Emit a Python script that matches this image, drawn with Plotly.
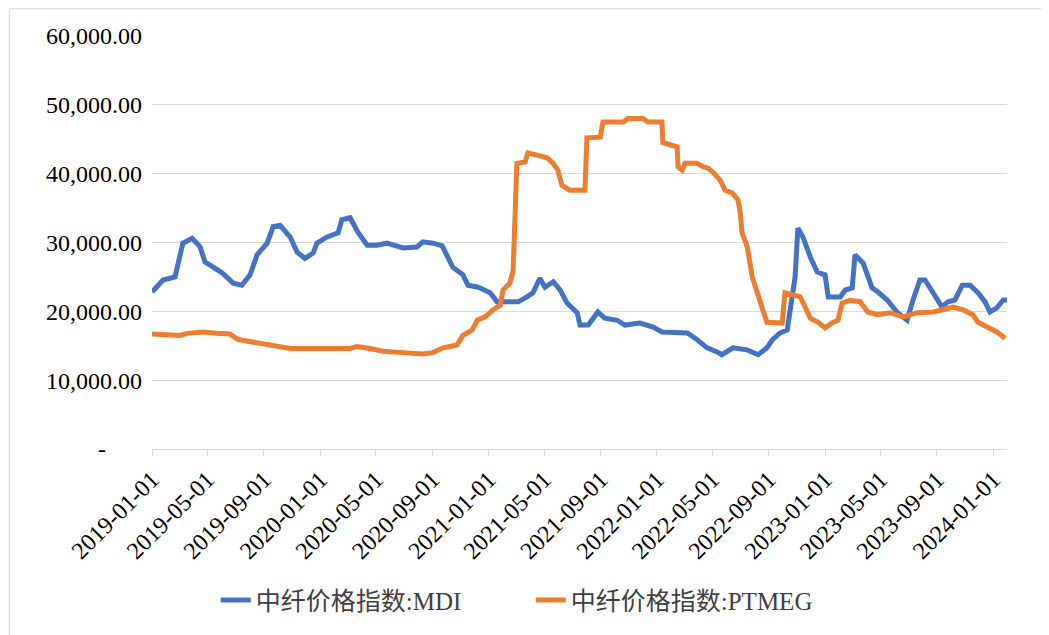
import plotly.graph_objects as go

# 中纤价格指数:MDI
mdi_dates = [
    "2019-01-01", "2019-01-25", "2019-02-20", "2019-03-09", "2019-03-29", "2019-04-15",
    "2019-04-26", "2019-05-13", "2019-06-02", "2019-06-26", "2019-07-15", "2019-08-02",
    "2019-08-17", "2019-09-08", "2019-09-21", "2019-10-06", "2019-10-28", "2019-11-12",
    "2019-11-29", "2019-12-17", "2019-12-25", "2020-01-16", "2020-02-09", "2020-02-17",
    "2020-03-06", "2020-03-23", "2020-04-12", "2020-05-03", "2020-05-25", "2020-06-29",
    "2020-07-29", "2020-08-11", "2020-09-02", "2020-09-22", "2020-10-05", "2020-10-15",
    "2020-11-06", "2020-11-17", "2020-12-09", "2021-01-04", "2021-01-19", "2021-03-06",
    "2021-03-25", "2021-04-07", "2021-04-22", "2021-05-03", "2021-05-21", "2021-06-05",
    "2021-06-20", "2021-07-12", "2021-07-18", "2021-08-05", "2021-08-26", "2021-09-10",
    "2021-10-07", "2021-10-24", "2021-11-25", "2021-12-24", "2022-01-12", "2022-03-08",
    "2022-03-31", "2022-04-20", "2022-05-12", "2022-05-22", "2022-06-15", "2022-07-16",
    "2022-08-09", "2022-08-28", "2022-09-08", "2022-09-25", "2022-10-11", "2022-10-21",
    "2022-10-28", "2022-11-03", "2022-11-14", "2022-11-30", "2022-12-15", "2023-01-01",
    "2023-01-08", "2023-02-03", "2023-02-14", "2023-03-01", "2023-03-07", "2023-03-25",
    "2023-04-13", "2023-04-26", "2023-05-16", "2023-06-06", "2023-06-28", "2023-07-11",
    "2023-07-26", "2023-08-06", "2023-08-24", "2023-09-12", "2023-09-25", "2023-10-10",
    "2023-10-26", "2023-11-12", "2023-11-29", "2023-12-14", "2023-12-25", "2024-01-09",
    "2024-01-23", "2024-01-31",
]
mdi_values = [
    22800, 24550, 25000, 29900, 30600, 29400,
    27200, 26400, 25600, 24100, 23800, 25300,
    28200, 29900, 32300, 32500, 30800, 28600,
    27700, 28500, 29900, 30800, 31400, 33300,
    33600, 31500, 29600, 29600, 29900, 29200,
    29350, 30100, 29900, 29500, 27500, 26400,
    25300, 23800, 23500, 22700, 21400, 21400,
    22100, 22700, 24800, 23500, 24300, 23100,
    21200, 19800, 18000, 18000, 19900, 19000,
    18700, 18000, 18300, 17700, 17000, 16850,
    15800, 14700, 14100, 13700, 14700, 14400,
    13700, 14700, 15800, 16850, 17300, 21600,
    25000, 32100, 30800, 27900, 25700, 25300,
    22100, 22100, 23100, 23400, 28200, 27000,
    23400, 22800, 21650, 19900, 18700, 21650,
    24550, 24550, 22700, 20600, 21400, 21650,
    23800, 23800, 22700, 21400, 19900, 20500,
    21650, 21650,
]

# 中纤价格指数:PTMEG
ptmeg_dates = [
    "2019-01-01", "2019-02-02", "2019-03-03", "2019-03-18", "2019-04-22", "2019-05-22",
    "2019-06-19", "2019-07-07", "2019-08-02", "2019-08-30", "2019-10-06", "2019-10-28",
    "2020-03-06", "2020-03-21", "2020-04-18", "2020-05-17", "2020-06-29", "2020-08-11",
    "2020-09-02", "2020-09-24", "2020-10-09", "2020-10-24", "2020-11-06", "2020-11-26",
    "2020-12-07", "2020-12-24", "2021-01-10", "2021-01-26", "2021-02-01", "2021-02-16",
    "2021-02-23", "2021-03-03", "2021-03-21", "2021-03-27", "2021-04-16", "2021-05-08",
    "2021-05-21", "2021-05-31", "2021-06-09", "2021-06-26", "2021-07-29", "2021-08-02",
    "2021-08-31", "2021-09-06", "2021-10-20", "2021-10-30", "2021-12-02", "2021-12-13",
    "2022-01-12", "2022-01-14", "2022-01-30", "2022-02-14", "2022-02-16", "2022-02-25",
    "2022-03-03", "2022-03-29", "2022-04-11", "2022-04-22", "2022-05-03", "2022-05-18",
    "2022-05-29", "2022-06-13", "2022-06-26", "2022-07-01", "2022-07-05", "2022-07-16",
    "2022-07-27", "2022-08-06", "2022-08-17", "2022-08-28", "2022-09-30", "2022-10-06",
    "2022-11-08", "2022-11-19", "2022-11-30", "2022-12-17", "2023-01-01", "2023-01-18",
    "2023-01-29", "2023-02-07", "2023-02-24", "2023-03-18", "2023-04-04", "2023-04-24",
    "2023-05-22", "2023-06-19", "2023-07-20", "2023-08-24", "2023-09-23", "2023-10-06",
    "2023-10-28", "2023-11-18", "2023-11-29", "2023-12-19", "2024-01-09", "2024-01-27",
]
ptmeg_values = [
    16700, 16500, 16500, 16800, 17000, 16800,
    16700, 15900, 15600, 15100, 14800, 14600,
    14600, 14900, 14600, 14200, 14000, 13800,
    14000, 14700, 14900, 15100, 16500, 17300,
    18700, 19200, 20200, 20900, 23100, 24100,
    26000, 41500, 41700, 43000, 42700, 42300,
    41500, 40500, 38300, 37600, 37600, 45200,
    45300, 47500, 47500, 48000, 48000, 47500,
    47500, 44500, 44200, 43900, 41000, 40500,
    41500, 41500, 41000, 40800, 40200, 39100,
    37600, 37200, 36200, 34300, 31400, 29400,
    25000, 22700, 20600, 18400, 18300, 22700,
    22100, 20600, 19000, 18400, 17600, 18400,
    18700, 21200, 21600, 21400, 19900, 19500,
    19800, 19200, 19800, 19900, 20500, 20600,
    20200, 19500, 18400, 17700, 17000, 16100,
]

y_tickvals = [0, 10000, 20000, 30000, 40000, 50000, 60000]
y_ticktext = ["-\u00a0\u00a0\u00a0\u00a0\u00a0\u00a0", "10,000.00", "20,000.00", "30,000.00",
              "40,000.00", "50,000.00", "60,000.00"]
x_tickvals = ["2019-01-01", "2019-05-01", "2019-09-01", "2020-01-01", "2020-05-01",
              "2020-09-01", "2021-01-01", "2021-05-01", "2021-09-01", "2022-01-01",
              "2022-05-01", "2022-09-01", "2023-01-01", "2023-05-01", "2023-09-01",
              "2024-01-01"]

FONT = "Liberation Serif"
FONT_LEGEND = "Liberation Serif, Noto Sans CJK SC"

fig = go.Figure()

fig.add_trace(go.Scatter(
    x=mdi_dates, y=mdi_values, mode="lines", name="中纤价格指数:MDI",
    line=dict(color="#4472C4", width=5),
))
fig.add_trace(go.Scatter(
    x=ptmeg_dates, y=ptmeg_values, mode="lines", name="中纤价格指数:PTMEG",
    line=dict(color="#ED7D31", width=5),
))

# 外框（左、上）
fig.add_shape(type="line", xref="paper", yref="paper", x0=-0.167, x1=1.06, y0=1.066, y1=1.066,
              line=dict(color="#D9D9D9", width=1))
fig.add_shape(type="line", xref="paper", yref="paper", x0=-0.167, x1=-0.167, y0=1.066, y1=-0.5,
              line=dict(color="#D9D9D9", width=1))

fig.update_layout(
    width=1049, height=635,
    margin=dict(l=144, r=50, t=28, b=194),
    paper_bgcolor="white", plot_bgcolor="white",
    font=dict(family=FONT, size=24, color="#000000"),
    showlegend=True,
    legend=dict(
        orientation="h", x=0.443, xanchor="center", y=-0.366, yanchor="middle",
        font=dict(family=FONT_LEGEND, size=25, color="#404040"),
        entrywidth=270,
    ),
)
fig.update_xaxes(
    type="date", range=["2019-01-01", "2024-01-31"],
    tickvals=x_tickvals, tickformat="%Y-%m-%d", tickangle=-45,
    tickfont=dict(family=FONT, size=24),
    showgrid=False, showline=True, linecolor="#D9D9D9", linewidth=1,
    ticks="outside", ticklen=6, tickcolor="#D9D9D9",
)
fig.update_yaxes(
    range=[0, 60000], tickvals=y_tickvals, ticktext=y_ticktext,
    showgrid=True, gridcolor="#D9D9D9", gridwidth=1, zeroline=False,
    ticklabelstandoff=9, tickfont=dict(family=FONT, size=24),
)

fig.write_html("out.html")
